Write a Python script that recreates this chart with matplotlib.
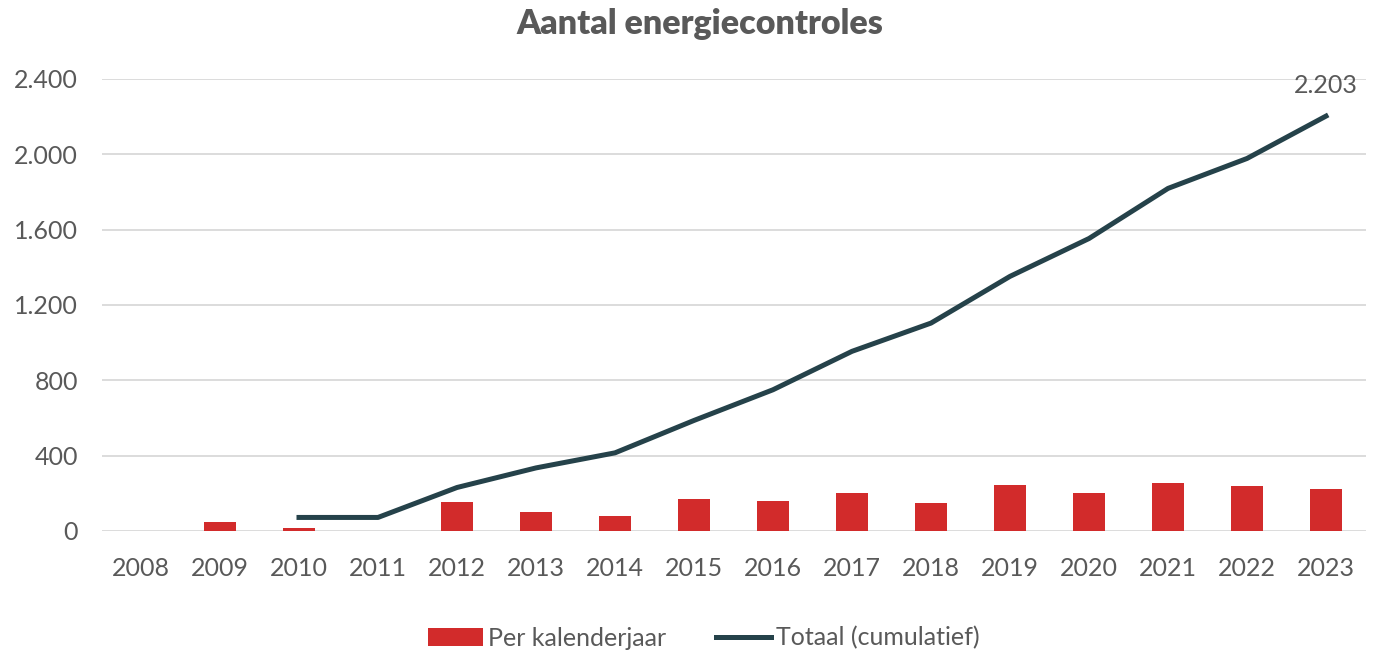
import numpy as np
import matplotlib.pyplot as plt
from matplotlib.ticker import FuncFormatter

plt.rcParams['font.family'] = ['Lato', 'DejaVu Sans']

years = ['2008', '2009', '2010', '2011', '2012', '2013', '2014', '2015',
         '2016', '2017', '2018', '2019', '2020', '2021', '2022', '2023']
per_jaar = [0, 50, 18, 0, 156, 103, 81, 172, 157, 204, 150, 246, 204, 257, 237, 225]
totaal = [np.nan, np.nan, 72, 72, 231, 335, 415, 587, 750, 954, 1104, 1352,
          1553, 1819, 1978, 2203]

ROOD = '#D22B2B'
DONKER = '#25424A'
GRIJS = '#595959'

fig = plt.figure(figsize=(13.76, 6.54), dpi=100)
ax = fig.add_axes([101.5 / 1376, 1 - 531 / 654, 1264 / 1376, 452 / 654])

x = np.arange(len(years))
balk = ax.bar(x, per_jaar, width=0.4, color=ROOD, label='Per kalenderjaar', zorder=2)
lijn, = ax.plot(x, totaal, color=DONKER, lw=3.6, label='Totaal (cumulatief)', zorder=3)

ax.annotate('2.203', (x[-1], totaal[-1]), xytext=(0, 14), textcoords='offset points',
            ha='center', va='bottom', fontsize=18, color=GRIJS)

ax.set_xlim(-0.5, len(years) - 0.5)
ax.set_ylim(0, 2400)
ax.set_yticks(range(0, 2401, 400))
ax.yaxis.set_major_formatter(FuncFormatter(lambda v, p: f'{int(v):,}'.replace(',', '.')))
ax.set_xticks(x)
ax.set_xticklabels(years)
ax.tick_params(axis='both', length=0, labelsize=18, colors=GRIJS)
ax.tick_params(axis='x', pad=19)
ax.tick_params(axis='y', pad=17)
ax.grid(axis='y', color='#D9D9D9', lw=1.3, zorder=0)
ax.set_axisbelow(True)
for s in ax.spines.values():
    s.set_visible(False)

fig.text(700 / 1376, 1 - 24 / 654, 'Aantal energiecontroles', ha='center', va='center',
         fontsize=24.5, fontweight='heavy', color=GRIJS)

fig.legend([balk, lijn], ['Per kalenderjaar', 'Totaal (cumulatief)'],
           loc='center', bbox_to_anchor=(0.5 + 16 / 1376, 1 - 638 / 654), ncol=2,
           frameon=False, fontsize=18, labelcolor=GRIJS, handlelength=2.2,
           handletextpad=0.2, columnspacing=2.0)

fig.savefig('out.png', dpi=100)
